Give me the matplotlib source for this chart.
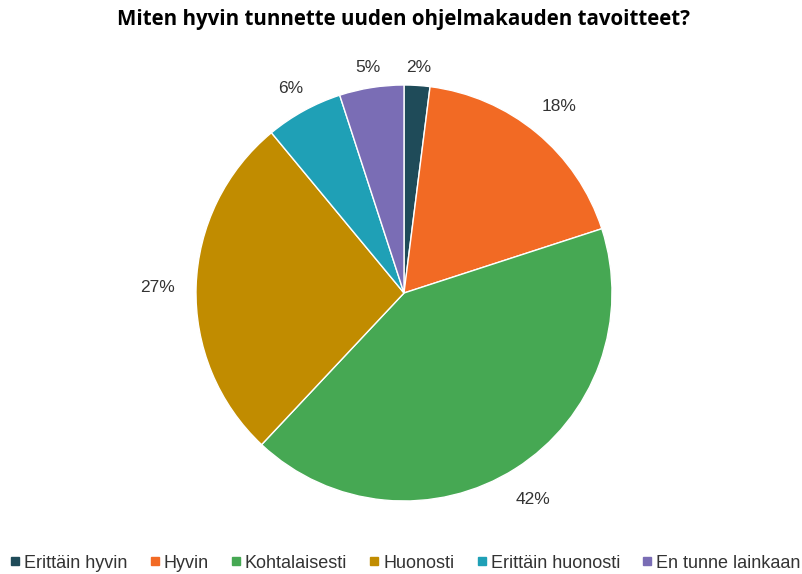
import numpy as np
import matplotlib.pyplot as plt
from matplotlib.lines import Line2D

# data
labels = ['Erittäin hyvin', 'Hyvin', 'Kohtalaisesti', 'Huonosti',
          'Erittäin huonosti', 'En tunne lainkaan']
values = [2, 18, 42, 27, 6, 5]
colors = ['#1f4b59', '#f26a24', '#46a853', '#c18c00', '#1fa0b6', '#7a6db5']

W, H = 803, 574
fig = plt.figure(figsize=(W / 100, H / 100), dpi=100)

cx, cy, r = 404, 293, 208
ax = fig.add_axes([(cx - r) / W, (H - cy - r) / H, 2 * r / W, 2 * r / H])

wedges, texts, autotexts = ax.pie(
    values, colors=colors, startangle=90, counterclock=False,
    autopct='%1.0f%%', pctdistance=1.13,
    wedgeprops=dict(edgecolor='white', linewidth=1),
    textprops=dict(family='Liberation Sans', fontsize=12.5, color='#333333'))
ax.set_xlim(-1, 1)
ax.set_ylim(-1, 1)
ax.set_aspect('equal')

# push labels out so their nearest edge sits just outside the rim
renderer = fig.canvas.get_renderer()
for w, t in zip(wedges, autotexts):
    ang = np.deg2rad((w.theta1 + w.theta2) / 2)
    ux, uy = np.cos(ang), np.sin(ang)
    bb = t.get_window_extent(renderer)
    ext = bb.width / 2 * abs(ux) + 6.5 * abs(uy)   # cap height ~13px
    d = (215 + 1.8 * ext) / r
    t.set_position((d * ux, d * uy - 2 / r))
    t.set_ha('center')
    t.set_va('center')

fig.text(cx / W, 1 - 19 / H, 'Miten hyvin tunnette uuden ohjelmakauden tavoitteet?',
         ha='center', va='center', fontsize=14.8, fontweight='bold',
         family='Open Sans', color='#000000')

handles = [Line2D([0], [0], marker='s', linestyle='', markersize=5.5,
                  markerfacecolor=c, markeredgecolor=c) for c in colors]
fig.legend(handles, labels, loc='center', bbox_to_anchor=(0.505, 1 - 563 / H),
           ncol=6, frameon=False, handlelength=0.5, handletextpad=0.25,
           columnspacing=1.25, labelcolor='#333333',
           prop=dict(family='Liberation Sans', size=13))

fig.savefig('out.png', dpi=100)
